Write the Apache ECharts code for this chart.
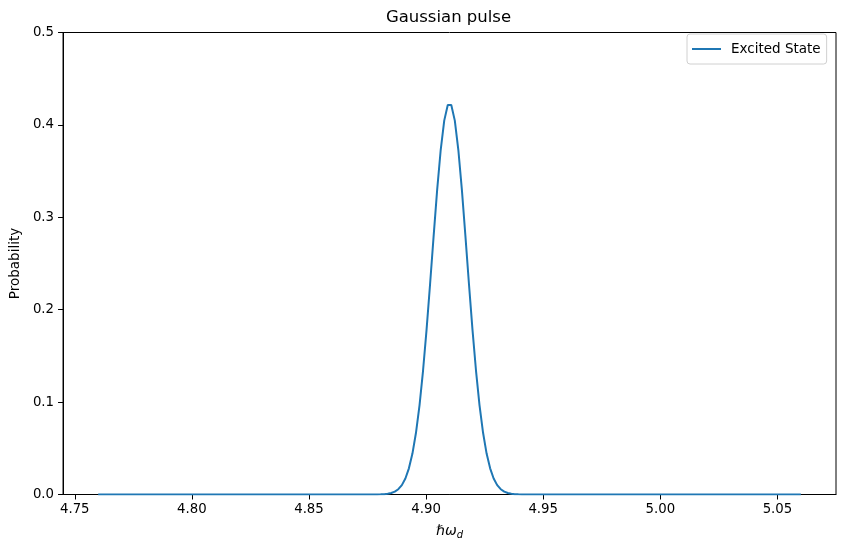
<!DOCTYPE html>
<html>
<head>
<meta charset="utf-8">
<script src="https://cdn.jsdelivr.net/npm/echarts@6/dist/echarts.min.js"></script>
<style>
  html, body { margin: 0; padding: 0; background: #fff; }
  #chart { width: 846px; height: 551px; }
</style>
</head>
<body>
<div id="chart"></div>
<script>
// ---- data ----
const titleText = 'Gaussian pulse';
const seriesName = 'Excited State';
const xTicks = [4.75, 4.80, 4.85, 4.90, 4.95, 5.00, 5.05];
const yTicks = [0.0, 0.1, 0.2, 0.3, 0.4, 0.5];

// drive energy (x) samples and excited-state probability (y)
const driveEnergy = [
  4.76,
  4.87457, 4.87608, 4.87759, 4.87910, 4.88060, 4.88211, 4.88362, 4.88513,
  4.88663, 4.88814, 4.88965, 4.89116, 4.89266, 4.89417, 4.89568, 4.89719,
  4.89869, 4.90020, 4.90171, 4.90322, 4.90472, 4.90623, 4.90774, 4.90925,
  4.91075, 4.91226, 4.91377, 4.91528, 4.91678, 4.91829, 4.91980, 4.92131,
  4.92281, 4.92432, 4.92583, 4.92734, 4.92884, 4.93035, 4.93186, 4.93337,
  4.93487, 4.93638, 4.93789, 4.93940, 4.94090, 4.94241, 4.94392, 4.94543,
  5.06
];
const probability = [
  0,
  0, 0.00001, 0.00003, 0.00008, 0.00018, 0.00038, 0.00080, 0.00161,
  0.00310, 0.00572, 0.01015, 0.0173, 0.0283, 0.0443, 0.0668, 0.0965,
  0.1339, 0.1784, 0.2281, 0.2799, 0.3297, 0.3728, 0.4046, 0.4215,
  0.4215, 0.4046, 0.3728, 0.3297, 0.2799, 0.2281, 0.1784, 0.1339,
  0.0965, 0.0668, 0.0443, 0.0283, 0.0173, 0.01015, 0.00572, 0.00310,
  0.00161, 0.00080, 0.00038, 0.00018, 0.00008, 0.00003, 0.00001, 0,
  0
];

const FONT = 'DejaVu Sans';
const chart = echarts.init(document.getElementById('chart'), null, { renderer: 'canvas' });

const option = {
  backgroundColor: '#ffffff',
  animation: false,
  title: {
    text: titleText,
    left: 448.5,
    textAlign: 'center',
    top: 9,
    padding: 0,
    textStyle: { fontFamily: FONT, fontSize: 16.5, fontWeight: 'normal', color: '#000' }
  },
  legend: {
    data: [seriesName],
    left: 687,
    top: 34,
    orient: 'vertical',
    padding: [8, 6, 8, 5],
    backgroundColor: 'rgba(255,255,255,0.8)',
    borderColor: '#d0d0d0',
    borderWidth: 1,
    borderRadius: 3,
    icon: 'rect',
    itemWidth: 29,
    itemHeight: 2,
    textStyle: { fontFamily: FONT, fontSize: 13.5, color: '#000', padding: [2, 0, 0, 5] }
  },
  grid: {
    left: 61,
    right: 10,
    top: 32.5,
    bottom: 56.5,
    show: true,
    borderColor: '#000',
    borderWidth: 1,
    backgroundColor: 'transparent'
  },
  xAxis: {
    type: 'value',
    min: 4.745,
    max: 5.075,
    name: '{i|ℏω}{s|d}',
    nameLocation: 'middle',
    nameGap: 27,
    nameTextStyle: {
      rich: {
        i: { fontFamily: FONT, fontSize: 14, fontStyle: 'italic', color: '#000' },
        s: { fontFamily: FONT, fontSize: 10, fontStyle: 'italic', color: '#000', padding: [9, 0, 0, 0] }
      }
    },
    axisLine: { show: true, onZero: false, lineStyle: { color: '#000', width: 1 } },
    axisTick: { show: true, length: 5, lineStyle: { color: '#000', width: 1 }, customValues: xTicks },
    axisLabel: {
      show: true,
      margin: 9,
      fontFamily: FONT,
      fontSize: 13.3,
      color: '#000',
      customValues: xTicks,
      formatter: v => Number(v).toFixed(2)
    },
    splitLine: { show: false }
  },
  yAxis: {
    type: 'value',
    min: 0,
    max: 0.5,
    interval: 0.1,
    name: 'Probability',
    nameLocation: 'middle',
    nameGap: 36,
    nameTextStyle: { fontFamily: FONT, fontSize: 13.5, color: '#000' },
    axisLine: { show: true, onZero: false, lineStyle: { color: '#000', width: 1 } },
    axisTick: { show: true, length: 5, lineStyle: { color: '#000', width: 1 }, customValues: yTicks },
    axisLabel: {
      show: true,
      margin: 9,
      fontFamily: FONT,
      fontSize: 13.3,
      color: '#000',
      customValues: yTicks,
      formatter: v => Number(v).toFixed(1)
    },
    splitLine: { show: false }
  },
  series: [{
    name: seriesName,
    type: 'line',
    data: driveEnergy.map((x, i) => [x, probability[i]]),
    showSymbol: false,
    symbol: 'none',
    smooth: false,
    color: '#1f77b4',
    lineStyle: { color: '#1f77b4', width: 2 },
    clip: true
  }]
};

chart.setOption(option);
</script>
</body>
</html>
